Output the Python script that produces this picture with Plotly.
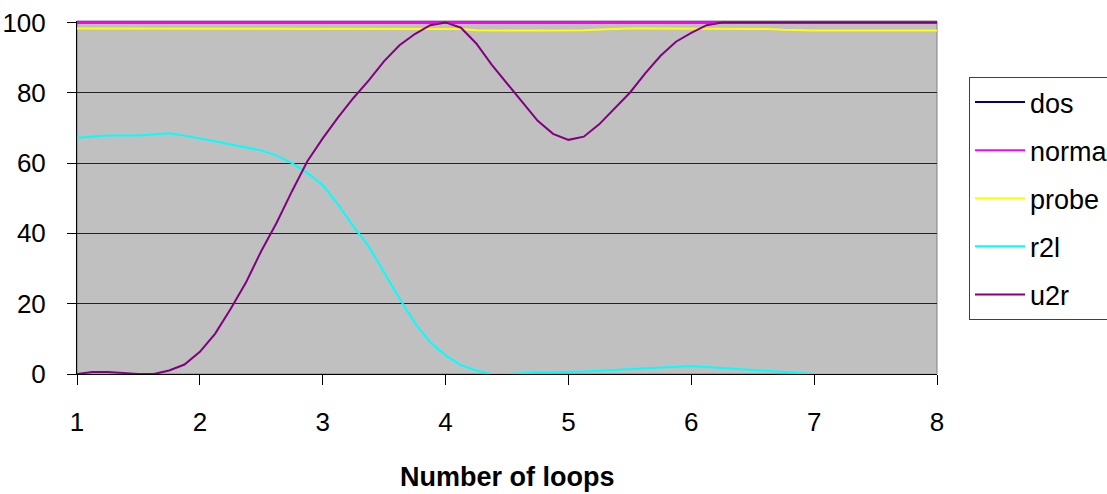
import plotly.graph_objects as go

loops = [1.0, 1.125, 1.25, 1.375, 1.5, 1.625, 1.75, 1.875,
         2.0, 2.125, 2.25, 2.375, 2.5, 2.625, 2.75, 2.875,
         3.0, 3.125, 3.25, 3.375, 3.5, 3.625, 3.75, 3.875,
         4.0, 4.125, 4.25, 4.375, 4.5, 4.625, 4.75, 4.875,
         5.0, 5.125, 5.25, 5.375, 5.5, 5.625, 5.75, 5.875,
         6.0, 6.125, 6.25, 6.375, 6.5, 6.625, 6.75, 6.875,
         7.0, 7.125, 7.25, 7.375, 7.5, 7.625, 7.75, 7.875,
         8.0]

dos = [100, 100, 100, 100, 100, 100, 100, 100,
       100, 100, 100, 100, 100, 100, 100, 100,
       100, 100, 100, 100, 100, 100, 100, 100,
       100, 100, 100, 100, 100, 100, 100, 100,
       100, 100, 100, 100, 100, 100, 100, 100,
       100, 100, 100, 100, 100, 100, 100, 100,
       100, 100, 100, 100, 100, 100, 100, 100,
       100]

normal = [100, 100, 100, 100, 100, 100, 100, 100,
          100, 100, 100, 100, 100, 100, 100, 100,
          100, 100, 100, 100, 100, 100, 100, 100,
          100, 100, 100, 100, 100, 100, 100, 100,
          100, 100, 100, 100, 100, 100, 100, 100,
          100, 100, 100, 100, 100, 100, 100, 100,
          100, 100, 100, 100, 100, 100, 100, 100,
          100]

probe = [98.3, 98.3, 98.3, 98.3, 98.3, 98.3, 98.3, 98.3,
         98.3, 98.3, 98.3, 98.3, 98.3, 98.3, 98.3, 98.3,
         98.3, 98.3, 98.3, 98.3, 98.3, 98.3, 98.3, 98.3,
         98.3, 98.1, 97.8, 97.7, 97.7, 97.7, 97.7, 97.7,
         97.7, 97.8, 98.0, 98.2, 98.3, 98.3, 98.3, 98.3,
         98.3, 98.3, 98.3, 98.3, 98.3, 98.1, 97.9, 97.7,
         97.7, 97.7, 97.7, 97.7, 97.7, 97.7, 97.7, 97.7,
         97.7]

r2l = [67.2, 67.5, 67.8, 67.8, 67.8, 68.1, 68.5, 67.8,
       67.1, 66.2, 65.3, 64.5, 63.6, 62.1, 60.0, 57.2,
       53.8, 48.2, 42.0, 36.3, 28.8, 21.5, 14.5, 9.0,
       5.3, 2.5, 1.0, 0.0, 0.0, 0.3, 0.5, 0.5,
       0.5, 0.7, 0.9, 1.1, 1.3, 1.6, 1.9, 2.1,
       2.3, 2.0, 1.7, 1.4, 1.1, 0.8, 0.5, 0.2,
       0.0, 0.0, 0.0, 0.0, 0.0, 0.0, 0.0, 0.0,
       0.0]

u2r = [0.0, 0.6, 0.6, 0.3, 0.0, 0.0, 1.0, 2.7,
       6.3, 11.5, 18.5, 26.0, 35.0, 43.0, 52.0, 60.5,
       67.0, 73.0, 78.5, 83.5, 89.0, 93.5, 96.7, 99.2,
       100.0, 98.5, 94.0, 88.0, 82.5, 77.3, 72.0, 68.3,
       66.6, 67.5, 71.0, 75.5, 80.0, 85.5, 90.5, 94.5,
       97.0, 99.2, 100.0, 100.0, 100.0, 100.0, 100.0, 100.0,
       100.0, 100.0, 100.0, 100.0, 100.0, 100.0, 100.0, 100.0,
       100.0]

series_names = ["dos", "normal", "probe", "r2l", "u2r"]
series_values = [dos, normal, probe, r2l, u2r]
series_colors = ["#000080", "#FF00FF", "#FFFF00", "#00FFFF", "#800080"]

x_ticks = [1, 2, 3, 4, 5, 6, 7, 8]
y_ticks = [0, 20, 40, 60, 80, 100]
x_title = "Number of loops"

FONT = "Liberation Sans, Arial, sans-serif"

fig = go.Figure()
for name, vals, col in zip(series_names, series_values, series_colors):
    fig.add_trace(go.Scatter(
        x=loops, y=vals, name=name, mode="lines",
        line=dict(color=col, width=2),
        legendgroup=name,
    ))

W, H = 1107, 494
L, R, T, B = 77, 170, 21, 120

fig.update_layout(
    width=W, height=H,
    margin=dict(l=L, r=R, t=T, b=B, autoexpand=False),
    paper_bgcolor="white",
    plot_bgcolor="#C0C0C0",
    font=dict(family=FONT, size=26, color="black"),
    showlegend=True,
    legend=dict(
        x=(969 - L) / (W - L - R), xanchor="left",
        y=(374 - 77) / (374 - T), yanchor="top",
        bgcolor="white", bordercolor="#404040", borderwidth=1,
        font=dict(family=FONT, size=27, color="black"),
        tracegroupgap=10, itemwidth=50,
    ),
    xaxis=dict(
        range=[1, 8], tickvals=x_ticks, ticktext=[str(v) for v in x_ticks],
        showgrid=False, zeroline=False,
        showline=True, linecolor="black", linewidth=1,
        ticks="outside", ticklen=10, tickcolor="black", tickwidth=1,
        tickfont=dict(family=FONT, size=26, color="black"),
        ticklabelstandoff=15,
    ),
    yaxis=dict(
        range=[0, 100.4], tickvals=y_ticks, ticktext=[str(v) for v in y_ticks],
        showgrid=True, gridcolor="#222222", gridwidth=1, zeroline=False,
        showline=True, linecolor="black", linewidth=1,
        ticks="outside", ticklen=9, tickcolor="black", tickwidth=1,
        tickfont=dict(family=FONT, size=26, color="black"),
        ticklabelstandoff=16,
    ),
    shapes=[dict(type="rect", xref="x domain", yref="y domain",
                 x0=0, x1=1, y0=0, y1=1,
                 line=dict(color="#808080", width=1), layer="below")],
    annotations=[dict(text="<b>" + x_title + "</b>", xref="paper", yref="paper",
                      x=0.5, y=(374 - 477) / (374 - T), xanchor="center", yanchor="middle",
                      showarrow=False, font=dict(family=FONT, size=27, color="black"))],
)

fig.write_html("out.html")
